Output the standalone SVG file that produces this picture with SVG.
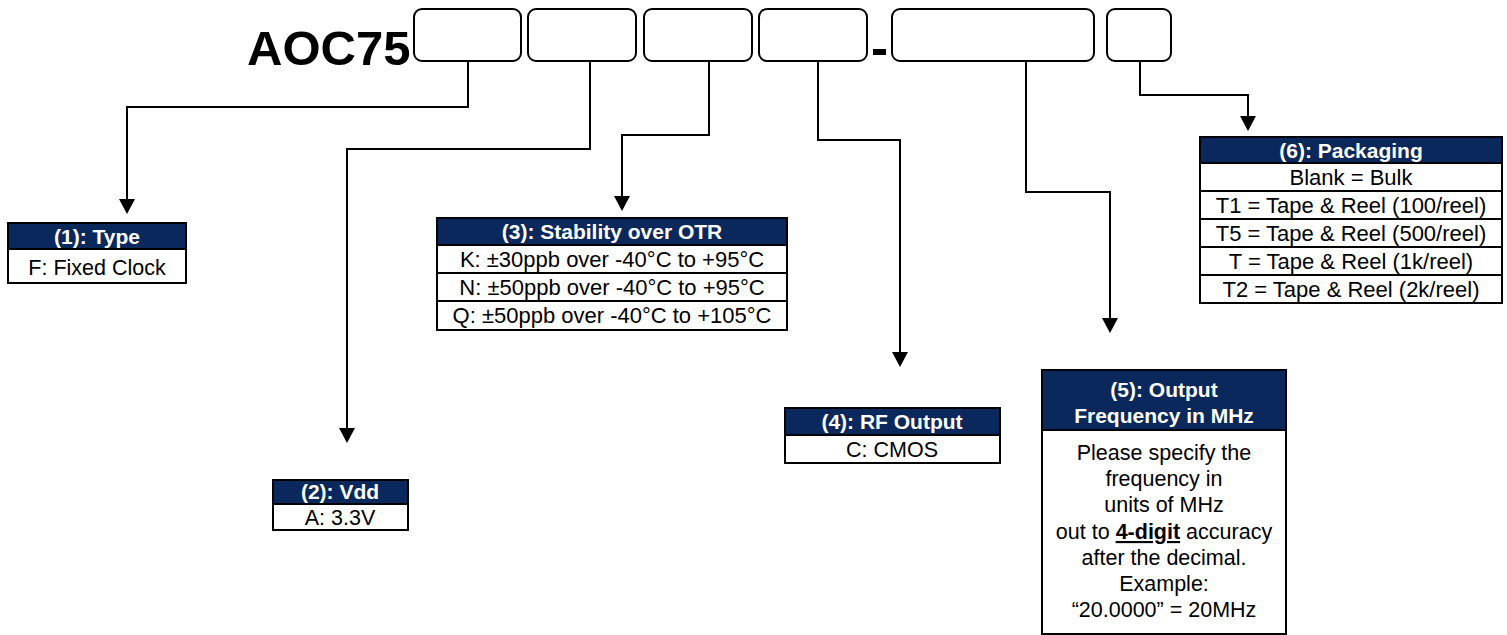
<svg xmlns="http://www.w3.org/2000/svg" width="1507" height="635" viewBox="0 0 1507 635">
<defs>
<style>
.slot{fill:#fff;stroke:#000;stroke-width:2}
.conn{fill:none;stroke:#000;stroke-width:2}
.head{fill:#0b285c;stroke:#000;stroke-width:2}
.cell{fill:#fff;stroke:#000;stroke-width:2}
.ht{font-family:"Liberation Sans",Arial,sans-serif;font-size:21px;font-weight:bold;fill:#fff;text-anchor:middle}
.bt{font-family:"Liberation Sans",Arial,sans-serif;font-size:21.5px;fill:#000;text-anchor:middle}
.bt22{font-size:22px}
.ah{fill:#000}
</style>
</defs>
<rect width="1507" height="635" fill="#fff"/>
<g id="title">
<text x="247" y="65" font-family="Liberation Sans,Arial,sans-serif" font-size="49" font-weight="bold">AOC75</text>
<rect x="414" y="9" width="107" height="52" rx="8" class="slot"/>
<rect x="528" y="9" width="108" height="52" rx="8" class="slot"/>
<rect x="644" y="9" width="108" height="52" rx="8" class="slot"/>
<rect x="759" y="9" width="108" height="52" rx="8" class="slot"/>
<rect x="873" y="49" width="13" height="6" fill="#000"/>
<rect x="892" y="9" width="202" height="52" rx="8" class="slot"/>
<rect x="1107" y="9" width="64" height="52" rx="8" class="slot"/>
</g>
<g id="connectors">
<path class="conn" d="M468,61 V107 H127 V205"/>
<polygon class="ah" points="119,199 135,199 127,214"/>
<path class="conn" d="M590,61 V149 H347 V434"/>
<polygon class="ah" points="339,428 355,428 347,443"/>
<path class="conn" d="M709,61 V135 H622 V202"/>
<polygon class="ah" points="614,196 630,196 622,211"/>
<path class="conn" d="M818,61 V140 H900 V358"/>
<polygon class="ah" points="892,352 908,352 900,367"/>
<path class="conn" d="M1026,61 V192 H1110 V324"/>
<polygon class="ah" points="1102,318 1118,318 1110,333"/>
<path class="conn" d="M1140,61 V95 H1248 V122"/>
<polygon class="ah" points="1240,116 1256,116 1248,131"/>
</g>
<g id="type">
<rect x="8" y="223" width="178" height="26" class="head"/>
<rect x="8" y="249" width="178" height="34" class="cell"/>
<text x="97" y="244" class="ht">(1): Type</text>
<text x="97" y="275" class="bt" font-size="23">F: Fixed Clock</text>
</g>
<g id="vdd">
<rect x="273" y="480" width="135" height="24" class="head"/>
<rect x="273" y="504" width="135" height="26" class="cell"/>
<text x="340" y="499" class="ht">(2): Vdd</text>
<text x="340" y="525" class="bt" font-size="23">A: 3.3V</text>
</g>
<g id="stability">
<rect x="437" y="218" width="350" height="27" class="head"/>
<rect x="437" y="245" width="350" height="28" class="cell"/>
<rect x="437" y="273" width="350" height="28" class="cell"/>
<rect x="437" y="301" width="350" height="29" class="cell"/>
<text x="612" y="239" class="ht">(3): Stability over OTR</text>
<text x="612" y="267" class="bt bt22">K: ±30ppb over -40°C to +95°C</text>
<text x="612" y="295" class="bt bt22">N: ±50ppb over -40°C to +95°C</text>
<text x="612" y="323" class="bt bt22">Q: ±50ppb over -40°C to +105°C</text>
</g>
<g id="rfoutput">
<rect x="785" y="408" width="215" height="27" class="head"/>
<rect x="785" y="435" width="215" height="28" class="cell"/>
<text x="892" y="429" class="ht">(4): RF Output</text>
<text x="892" y="457" class="bt">C: CMOS</text>
</g>
<g id="frequency">
<rect x="1042" y="370" width="244" height="60" class="head"/>
<rect x="1042" y="430" width="244" height="204" class="cell"/>
<text x="1164" y="397" class="ht">(5): Output</text>
<text x="1164" y="423" class="ht">Frequency in MHz</text>
<text x="1164" y="460" class="bt">Please specify the</text>
<text x="1164" y="486" class="bt">frequency in</text>
<text x="1164" y="512" class="bt">units of MHz</text>
<text x="1164" y="539" class="bt">out to <tspan font-weight="bold" text-decoration="underline">4-digit</tspan> accuracy</text>
<text x="1164" y="565" class="bt">after the decimal.</text>
<text x="1164" y="591" class="bt">Example:</text>
<text x="1164" y="617" class="bt">“20.0000” = 20MHz</text>
</g>
<g id="packaging">
<rect x="1200" y="137" width="302" height="26" class="head"/>
<rect x="1200" y="163" width="302" height="28" class="cell"/>
<rect x="1200" y="191" width="302" height="28" class="cell"/>
<rect x="1200" y="219" width="302" height="28" class="cell"/>
<rect x="1200" y="247" width="302" height="28" class="cell"/>
<rect x="1200" y="275" width="302" height="28" class="cell"/>
<text x="1351" y="158" class="ht">(6): Packaging</text>
<text x="1351" y="185" class="bt bt22">Blank = Bulk</text>
<text x="1351" y="213" class="bt bt22">T1 = Tape &amp; Reel (100/reel)</text>
<text x="1351" y="241" class="bt bt22">T5 = Tape &amp; Reel (500/reel)</text>
<text x="1351" y="269" class="bt bt22">T = Tape &amp; Reel (1k/reel)</text>
<text x="1351" y="297" class="bt bt22">T2 = Tape &amp; Reel (2k/reel)</text>
</g>
</svg>
